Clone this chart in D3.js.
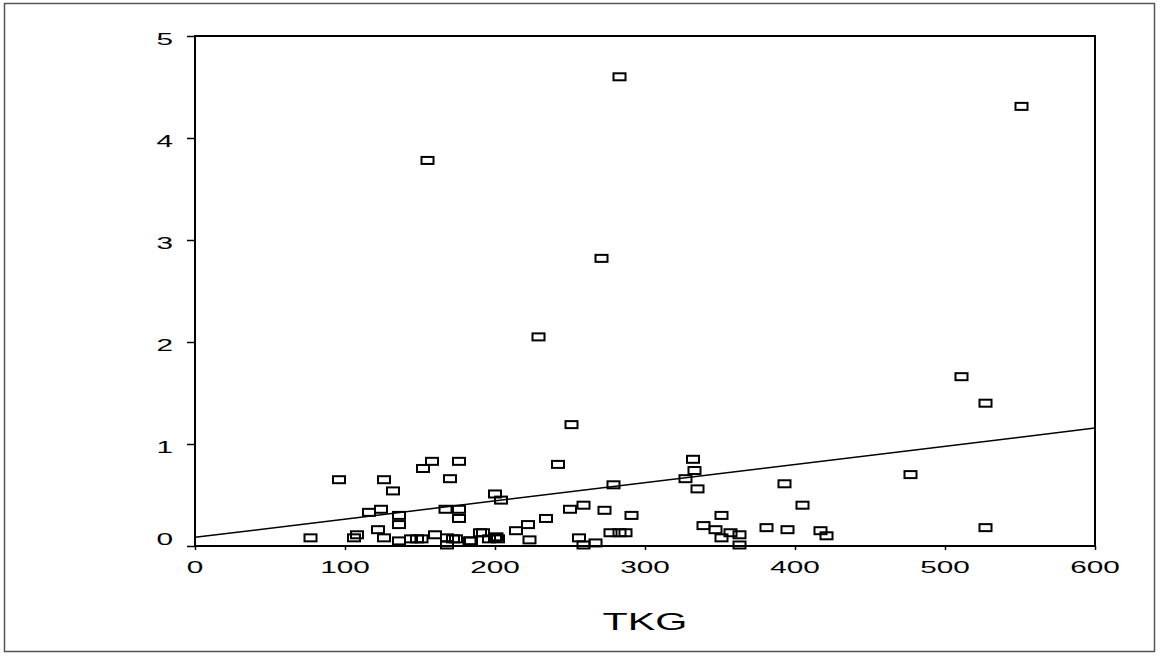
<!DOCTYPE html>
<html>
<head>
<meta charset="utf-8">
<script src="https://cdn.jsdelivr.net/npm/d3@7"></script>
<style>
  body { margin: 0; background: #fff; }
  svg { display: block; }
  text { font-family: "Liberation Sans", Arial, sans-serif; fill: #000; }
</style>
</head>
<body>
<div id="chart"></div>
<script>
// TKG values (x) and matching y values
const tkg = [155, 283, 551, 271, 229, 251, 511, 527, 477, 527,
  332, 333, 327, 335, 393, 405, 351, 339, 347, 357, 363, 351, 363, 381, 395, 417, 421,
  242, 200, 204, 279, 250, 259, 273, 291, 234, 222, 214, 192, 223, 183, 196, 200, 201, 202, 256, 259, 267, 277, 283, 287,
  96, 126, 132, 152, 158, 176, 170, 116, 124, 136, 136, 167, 176, 176, 122, 77, 106, 108, 126, 136, 144, 148, 151, 160, 168, 168, 172, 174, 184, 190];
const yVal = [3.78, 4.60, 4.31, 2.82, 2.05, 1.19, 1.66, 1.40, 0.70, 0.18,
  0.85, 0.74, 0.66, 0.56, 0.61, 0.40, 0.30, 0.20, 0.16, 0.13, 0.11, 0.08, 0.01, 0.18, 0.16, 0.15, 0.10,
  0.80, 0.51, 0.45, 0.60, 0.36, 0.40, 0.35, 0.30, 0.27, 0.21, 0.15, 0.13, 0.06, 0.05, 0.07, 0.08, 0.09, 0.07, 0.08, 0.01, 0.03, 0.13, 0.13, 0.13,
  0.65, 0.65, 0.54, 0.76, 0.83, 0.83, 0.66, 0.33, 0.36, 0.30, 0.21, 0.36, 0.36, 0.27, 0.16, 0.08, 0.08, 0.11, 0.08, 0.05, 0.07, 0.07, 0.07, 0.11, 0.08, 0.01, 0.07, 0.07, 0.05, 0.13];

// fitted line end points
const fitX = [0, 600];
const fitY = [0.085, 1.156];

const xTicks = [0, 100, 200, 300, 400, 500, 600];
const yTicks = [0, 1, 2, 3, 4, 5];
const xTitle = "TKG";

const width = 1160, height = 656;
const margin = {top: 36, right: 65, bottom: 110, left: 195};
const stretch = 1.75; // the labels in the picture are drawn wide

const svg = d3.select("#chart").append("svg")
  .attr("width", width)
  .attr("height", height);

// outer frame
svg.append("rect")
  .attr("x", 4.5).attr("y", 3.5)
  .attr("width", 1150).attr("height", 648)
  .attr("fill", "none")
  .attr("stroke", "#555")
  .attr("stroke-width", 1.5);

const x = d3.scaleLinear().domain([0, 600]).range([margin.left, width - margin.right]);
const y = d3.scaleLinear().domain([0, 5]).range([height - margin.bottom, margin.top]);

// plot box
svg.append("rect")
  .attr("x", x(0)).attr("y", y(5))
  .attr("width", x(600) - x(0)).attr("height", y(0) - y(5))
  .attr("fill", "none")
  .attr("stroke", "#000")
  .attr("stroke-width", 2);

// y ticks
const yAxis = svg.append("g")
  .attr("transform", `translate(${x(0)},0)`)
  .call(d3.axisLeft(y).tickValues(yTicks).tickSize(8).tickFormat(""));
yAxis.select(".domain").remove();
yAxis.selectAll("line").attr("stroke", "#000").attr("stroke-width", 1.5);

yTicks.forEach(t => {
  let off = t === 0 ? -7 : 3;
  svg.append("text")
    .attr("transform", `translate(${x(0) - 22},${y(t) + off}) scale(${stretch},1)`)
    .attr("text-anchor", "end")
    .attr("dominant-baseline", "central")
    .attr("font-size", 17)
    .text(t);
});

// x ticks
const xAxis = svg.append("g")
  .attr("transform", `translate(0,${y(0)})`)
  .call(d3.axisBottom(x).tickValues(xTicks).tickSize(4).tickFormat(""));
xAxis.select(".domain").remove();
xAxis.selectAll("line").attr("stroke", "#000").attr("stroke-width", 1.5);

xTicks.forEach(t => {
  svg.append("text")
    .attr("transform", `translate(${x(t)},${y(0) + 27}) scale(${stretch},1)`)
    .attr("text-anchor", "middle")
    .attr("font-size", 17)
    .text(t);
});

svg.append("text")
  .attr("transform", `translate(${(x(0) + x(600)) / 2},${y(0) + 84}) scale(1.72,1)`)
  .attr("text-anchor", "middle")
  .attr("font-size", 24)
  .text(xTitle);

// fit line
svg.append("line")
  .attr("x1", x(fitX[0])).attr("y1", y(fitY[0]))
  .attr("x2", x(fitX[1])).attr("y2", y(fitY[1]))
  .attr("stroke", "#000")
  .attr("stroke-width", 1.5);

// points
const pts = tkg.map((v, i) => ({x: v, y: yVal[i]}));
svg.append("g").selectAll("rect")
  .data(pts)
  .join("rect")
  .attr("x", d => x(d.x) - 6)
  .attr("y", d => y(d.y) - 3.5)
  .attr("width", 12)
  .attr("height", 7)
  .attr("fill", "none")
  .attr("stroke", "#000")
  .attr("stroke-width", 2);
</script>
</body>
</html>
